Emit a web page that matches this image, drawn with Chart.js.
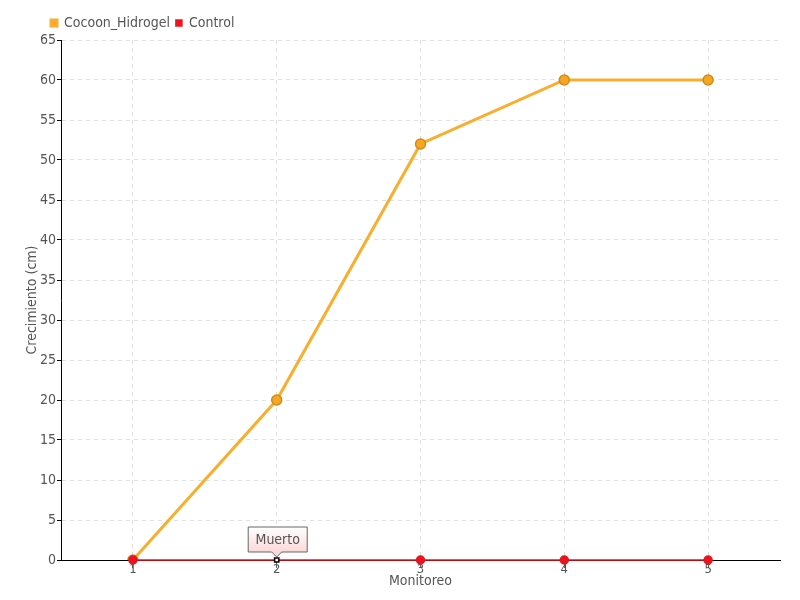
<!DOCTYPE html>
<html>
<head>
<meta charset="utf-8">
<script src="https://cdn.jsdelivr.net/npm/chart.js@4"></script>
<style>
  body { margin: 0; background: #fff; }
  #wrap { width: 800px; height: 600px; }
</style>
</head>
<body>
<div id="wrap"><canvas id="chart"></canvas></div>
<script>
const labels = ['1', '2', '3', '4', '5'];
const cocoonValues = [0, 20, 52, 60, 60];
const controlValues = [0, 0, 0, 0, 0];
const deadIndex = 1;
const deadLabel = 'Muerto';

const fontFamily = '"DejaVu Sans Condensed", "DejaVu Sans", sans-serif';
const textColor = '#555';

// little callout box above the "dead" control point
const calloutPlugin = {
    id: 'callout',
    afterDatasetsDraw(chart) {
        const ctx = chart.ctx;
        const x = chart.scales.x.getPixelForValue(deadIndex);
        const y = chart.scales.y.getPixelForValue(controlValues[deadIndex]);
        const w = 59, h = 25, arrow = 5;
        const left = x - w / 2 + 1, top = y - arrow - h - 3;
        ctx.save();
        const grad = ctx.createLinearGradient(0, top, 0, top + h);
        grad.addColorStop(0, '#fff');
        grad.addColorStop(1, '#fbd8d8');
        ctx.beginPath();
        ctx.moveTo(left, top);
        ctx.lineTo(left + w, top);
        ctx.lineTo(left + w, top + h);
        ctx.lineTo(x + arrow, top + h);
        ctx.lineTo(x, top + h + arrow);
        ctx.lineTo(x - arrow, top + h);
        ctx.lineTo(left, top + h);
        ctx.closePath();
        ctx.fillStyle = grad;
        ctx.fill();
        ctx.strokeStyle = '#666';
        ctx.lineWidth = 1;
        ctx.stroke();
        ctx.fillStyle = textColor;
        ctx.font = '14px ' + fontFamily;
        ctx.textAlign = 'center';
        ctx.textBaseline = 'middle';
        ctx.fillText(deadLabel, left + w / 2, top + h / 2 + 1);
        ctx.restore();
    }
};

// nudge the legend right so it sits above the y axis labels
const legendShift = {
    id: 'legendShift',
    beforeDraw(chart) {
        chart.legend.left += 20;
        chart.legend.right += 20;
    }
};

const controlPointStyle = labels.map((l, i) => i === deadIndex ? 'rect' : 'circle');
const controlPointBg = labels.map((l, i) => i === deadIndex ? '#fff' : '#e8141e');
const controlPointBorder = labels.map((l, i) => i === deadIndex ? '#000' : '#e8141e');
const controlPointRadius = labels.map((l, i) => i === deadIndex ? 3 : 4);

new Chart(document.getElementById('chart'), {
    type: 'line',
    data: {
        labels: labels,
        datasets: [
            {
                label: 'Cocoon_Hidrogel',
                data: cocoonValues,
                order: 1,
                borderColor: '#f9ae2e',
                backgroundColor: '#f5a623',
                pointBackgroundColor: '#f5a623',
                pointBorderColor: '#d48a16',
                pointBorderWidth: 1.5,
                pointRadius: 5,
                borderWidth: 3,
                tension: 0
            },
            {
                label: 'Control',
                data: controlValues,
                order: 0,
                clip: false,
                borderColor: '#f0141e',
                backgroundColor: '#e8141e',
                pointStyle: controlPointStyle,
                pointBackgroundColor: controlPointBg,
                pointBorderColor: controlPointBorder,
                pointRadius: controlPointRadius,
                pointBorderWidth: 1.5,
                borderWidth: 1.5,
                tension: 0
            }
        ]
    },
    options: {
        responsive: true,
        maintainAspectRatio: false,
        animation: false,
        layout: { padding: { left: 25, right: 20, top: 10, bottom: 12 } },
        plugins: {
            legend: {
                position: 'top',
                align: 'start',
                labels: {
                    boxWidth: 6,
                    boxHeight: 6,
                    padding: 6,
                    color: textColor,
                    font: { family: fontFamily, size: 14 },
                    sort: (a, b) => a.datasetIndex - b.datasetIndex
                }
            },
            tooltip: { enabled: false }
        },
        scales: {
            x: {
                offset: true,
                title: {
                    display: true,
                    text: 'Monitoreo',
                    color: textColor,
                    padding: { top: 3, bottom: 0 },
                    font: { family: fontFamily, size: 14, lineHeight: 1 }
                },
                grid: {
                    color: '#e0e0e0',
                    tickColor: '#666',
                    tickLength: 8,
                    offset: false
                },
                border: { color: '#000', width: 1, dash: [4, 4] },
                ticks: {
                    color: textColor,
                    padding: -5,
                    font: { family: fontFamily, size: 13, lineHeight: 1 }
                }
            },
            y: {
                min: 0,
                max: 65,
                title: {
                    display: true,
                    text: 'Crecimiento (cm)',
                    color: textColor,
                    padding: 0,
                    font: { family: fontFamily, size: 14, lineHeight: 1 }
                },
                grid: {
                    color: '#e0e0e0',
                    tickColor: '#000',
                    tickLength: 4
                },
                border: { color: '#000', width: 1, dash: [4, 4] },
                ticks: {
                    stepSize: 5,
                    color: textColor,
                    padding: 1,
                    font: { family: fontFamily, size: 14 }
                }
            }
        }
    },
    plugins: [calloutPlugin, legendShift]
});
</script>
</body>
</html>
